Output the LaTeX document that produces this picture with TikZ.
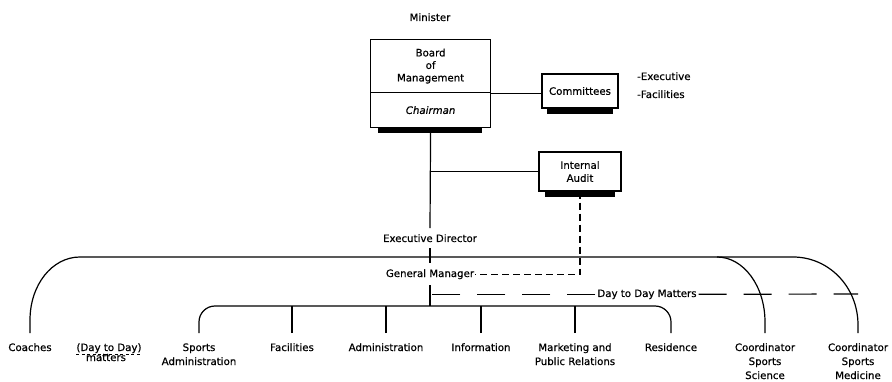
\documentclass[tikz,border=0pt]{standalone}
\usepackage{fontspec}
\setmainfont{DejaVu Sans}[ItalicFont={DejaVu Sans Oblique}, FakeBold=0.6]
\begin{document}
\begin{tikzpicture}[x=1pt,y=-1pt,
  every node/.style={font=\fontsize{10.2}{14}\selectfont},
  wire/.style={line width=1.2pt},
  unitbox/.style={draw, line width=1.2pt, fill=white, align=center, inner sep=2pt},
  shadowbar/.style={fill=black},
  posttitle/.style={anchor=base, inner xsep=1pt, inner ysep=6pt},
  unitlabel/.style={anchor=base, align=center, inner xsep=1pt, inner ysep=10pt},
  guide/.style={line width=1.2pt, dash pattern=on 28pt off 17pt},
  auditlink/.style={line width=1.2pt, dash pattern=on 7pt off 4pt}]

\fill[white] (0,0) rectangle (892,382);
\useasboundingbox (0,0) rectangle (892,382);

% --- top of the organisation ---
\node[anchor=base] (minister) at (430,21) {Minister};
\node[unitbox, anchor=north west, minimum width=120pt, minimum height=53pt,
      font=\fontsize{10.2}{12.5}\selectfont] (board) at (370,39) {Board\\of\\Management};
\node[unitbox, anchor=north west, minimum width=120pt, minimum height=35pt,
      font=\fontsize{10.2}{14}\selectfont\itshape] (chair) at (370,92) {Chairman};
\fill[shadowbar] ([xshift=8pt]chair.south west) rectangle ([xshift=-9pt,yshift=-5pt]chair.south east);

\node[unitbox, minimum width=76pt, minimum height=34pt] (comm) at (580,91) {Committees};
\fill[shadowbar] ([xshift=6pt]comm.south west) rectangle ([xshift=-6pt,yshift=-5pt]comm.south east);
\node[anchor=base west, inner sep=0] (note1) at (637,80) {-Executive};
\node[anchor=base west, inner sep=0] (note2) at (637,98) {-Facilities};

\node[unitbox, minimum width=82pt, minimum height=39pt,
      font=\fontsize{10.2}{13}\selectfont] (audit) at (580,171.5) {Internal\\Audit};
\fill[shadowbar] ([xshift=7pt]audit.south west) rectangle ([xshift=-7pt,yshift=-5pt]audit.south east);

\node[posttitle] (ed) at (430,242) {Executive Director};
\node[posttitle] (gm) at (430,277) {General Manager};
\node[anchor=base, inner xsep=2pt] (dtd) at (647,297) {Day to Day Matters};

% --- units (base anchor sits on the last line) ---
\node[unitlabel] (coaches) at (30,351) {Coaches};
\node[anchor=base, inner sep=0] (ddd) at (109,351) {(Day to Day)};
\node[anchor=base, inner sep=0] (matters) at (106,361) {matters};
\node[unitlabel] (sa) at (199,365) {Sports\\Administration};
\node[unitlabel] (fac) at (292,351) {Facilities};
\node[unitlabel] (adm) at (386,351) {Administration};
\node[unitlabel] (info) at (481,351) {Information};
\node[unitlabel] (mkt) at (575,365) {Marketing and\\Public Relations};
\node[unitlabel] (res) at (671,351) {Residence};
\node[unitlabel] (sci) at (765,379) {Coordinator\\Sports\\Science};
\node[unitlabel] (med) at (858,379) {Coordinator\\Sports\\Medicine};

\coordinate (gmfoot) at (430,306);
\coordinate (dayend) at (858,294);

% --- connectors ---
\draw[wire] (board.south east) -- (board.south east -| comm.west);
\draw[wire] (chair.south) -- (ed.north);
\draw[wire] (audit.west) -- (audit.west -| ed.north);
\draw[wire] (ed.south) -- (gm.north);
\draw[wire] (gm.south) -- (gmfoot);
\draw[auditlink] (audit.south) |- (gm.east);

% upper bus: coaches and the two coordinators
\draw[wire] (coaches.north) -- (30,320) .. controls (30,285) and (52,257) .. (80,257)
  -- (793,257) .. controls (829,257) and (858,287) .. (858,325) -- (med.north);
\draw[wire] (717,257) .. controls (743.5,257) and (765,286) .. (765,322) -- (sci.north);

% lower bus: departments
\draw[wire, rounded corners=16pt] (sa.north) |- (gmfoot) -| (res.north);
\foreach \n in {fac,adm,info,mkt}
  \draw[wire] (\n.north) -- (\n.north |- gmfoot);

% day to day matters
\draw[guide] (dtd.west) -- (dtd.west -| gmfoot);
\draw[guide] (dtd.east) -- (dayend);
\draw[line width=0.8pt, dash pattern=on 3pt off 2.5pt]
  ([yshift=-3pt]ddd.base west) -- ([yshift=-3pt]ddd.base east);
\end{tikzpicture}
\end{document}
